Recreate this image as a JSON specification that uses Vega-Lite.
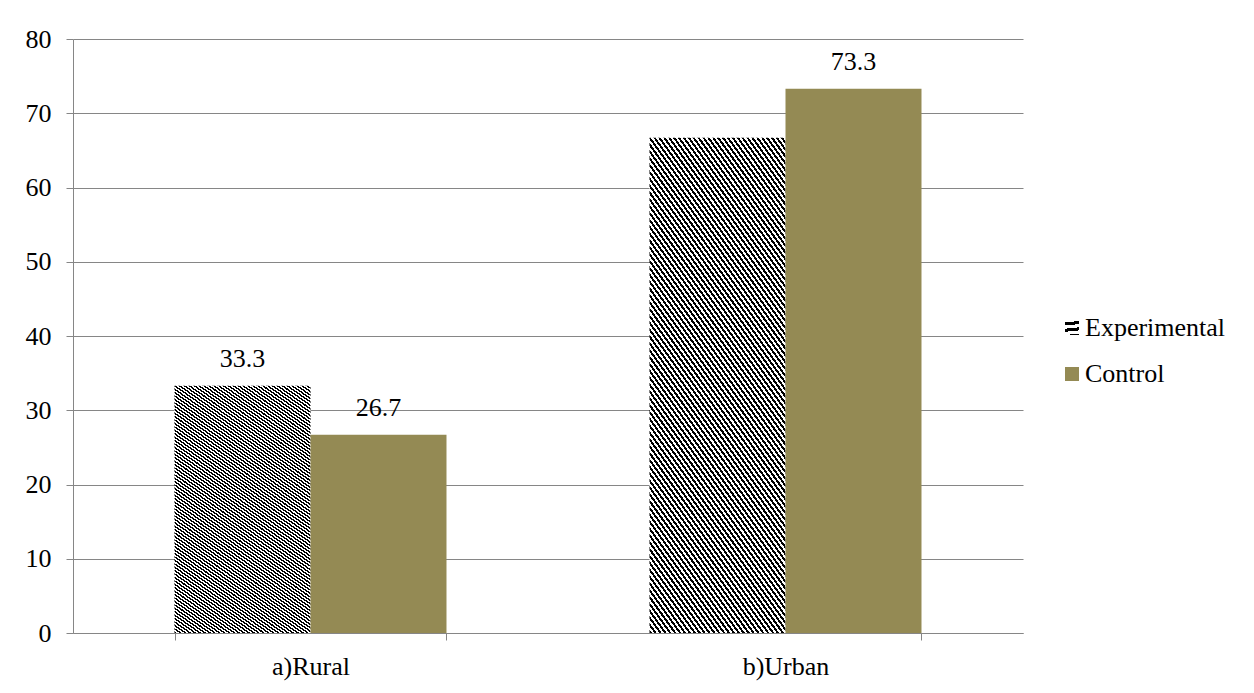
{
  "$schema": "https://vega.github.io/schema/vega-lite/v6.json",
  "width": 950,
  "height": 594,
  "autosize": {"type": "none"},
  "padding": {"left": 73, "top": 39, "right": 231, "bottom": 60},
  "background": "white",
  "config": {"font": "'Liberation Serif', 'Times New Roman', Times, serif", "view": {"stroke": null}},
  "params": [
    {
      "name": "stripes",
      "value": {
        "gradient": "linear", "x1": 0, "y1": 1, "x2": 0.4639, "y2": -0.2062,
        "stops": [
          {"offset":0,"color":"#000"},{"offset":0.005,"color":"#000"},{"offset":0.005,"color":"#fff"},{"offset":0.01,"color":"#fff"},{"offset":0.01,"color":"#000"},{"offset":0.015,"color":"#000"},{"offset":0.015,"color":"#fff"},{"offset":0.02,"color":"#fff"},{"offset":0.02,"color":"#000"},{"offset":0.025,"color":"#000"},{"offset":0.025,"color":"#fff"},{"offset":0.03,"color":"#fff"},{"offset":0.03,"color":"#000"},{"offset":0.035,"color":"#000"},{"offset":0.035,"color":"#fff"},{"offset":0.04,"color":"#fff"},{"offset":0.04,"color":"#000"},{"offset":0.045,"color":"#000"},{"offset":0.045,"color":"#fff"},{"offset":0.05,"color":"#fff"},{"offset":0.05,"color":"#000"},{"offset":0.055,"color":"#000"},{"offset":0.055,"color":"#fff"},{"offset":0.06,"color":"#fff"},{"offset":0.06,"color":"#000"},{"offset":0.065,"color":"#000"},{"offset":0.065,"color":"#fff"},{"offset":0.07,"color":"#fff"},{"offset":0.07,"color":"#000"},{"offset":0.075,"color":"#000"},{"offset":0.075,"color":"#fff"},{"offset":0.08,"color":"#fff"},{"offset":0.08,"color":"#000"},{"offset":0.085,"color":"#000"},{"offset":0.085,"color":"#fff"},{"offset":0.09,"color":"#fff"},{"offset":0.09,"color":"#000"},{"offset":0.095,"color":"#000"},{"offset":0.095,"color":"#fff"},{"offset":0.1,"color":"#fff"},
          {"offset":0.1,"color":"#000"},{"offset":0.105,"color":"#000"},{"offset":0.105,"color":"#fff"},{"offset":0.11,"color":"#fff"},{"offset":0.11,"color":"#000"},{"offset":0.115,"color":"#000"},{"offset":0.115,"color":"#fff"},{"offset":0.12,"color":"#fff"},{"offset":0.12,"color":"#000"},{"offset":0.125,"color":"#000"},{"offset":0.125,"color":"#fff"},{"offset":0.13,"color":"#fff"},{"offset":0.13,"color":"#000"},{"offset":0.135,"color":"#000"},{"offset":0.135,"color":"#fff"},{"offset":0.14,"color":"#fff"},{"offset":0.14,"color":"#000"},{"offset":0.145,"color":"#000"},{"offset":0.145,"color":"#fff"},{"offset":0.15,"color":"#fff"},{"offset":0.15,"color":"#000"},{"offset":0.155,"color":"#000"},{"offset":0.155,"color":"#fff"},{"offset":0.16,"color":"#fff"},{"offset":0.16,"color":"#000"},{"offset":0.165,"color":"#000"},{"offset":0.165,"color":"#fff"},{"offset":0.17,"color":"#fff"},{"offset":0.17,"color":"#000"},{"offset":0.175,"color":"#000"},{"offset":0.175,"color":"#fff"},{"offset":0.18,"color":"#fff"},{"offset":0.18,"color":"#000"},{"offset":0.185,"color":"#000"},{"offset":0.185,"color":"#fff"},{"offset":0.19,"color":"#fff"},{"offset":0.19,"color":"#000"},{"offset":0.195,"color":"#000"},{"offset":0.195,"color":"#fff"},{"offset":0.2,"color":"#fff"},
          {"offset":0.2,"color":"#000"},{"offset":0.205,"color":"#000"},{"offset":0.205,"color":"#fff"},{"offset":0.21,"color":"#fff"},{"offset":0.21,"color":"#000"},{"offset":0.215,"color":"#000"},{"offset":0.215,"color":"#fff"},{"offset":0.22,"color":"#fff"},{"offset":0.22,"color":"#000"},{"offset":0.225,"color":"#000"},{"offset":0.225,"color":"#fff"},{"offset":0.23,"color":"#fff"},{"offset":0.23,"color":"#000"},{"offset":0.235,"color":"#000"},{"offset":0.235,"color":"#fff"},{"offset":0.24,"color":"#fff"},{"offset":0.24,"color":"#000"},{"offset":0.245,"color":"#000"},{"offset":0.245,"color":"#fff"},{"offset":0.25,"color":"#fff"},{"offset":0.25,"color":"#000"},{"offset":0.255,"color":"#000"},{"offset":0.255,"color":"#fff"},{"offset":0.26,"color":"#fff"},{"offset":0.26,"color":"#000"},{"offset":0.265,"color":"#000"},{"offset":0.265,"color":"#fff"},{"offset":0.27,"color":"#fff"},{"offset":0.27,"color":"#000"},{"offset":0.275,"color":"#000"},{"offset":0.275,"color":"#fff"},{"offset":0.28,"color":"#fff"},{"offset":0.28,"color":"#000"},{"offset":0.285,"color":"#000"},{"offset":0.285,"color":"#fff"},{"offset":0.29,"color":"#fff"},{"offset":0.29,"color":"#000"},{"offset":0.295,"color":"#000"},{"offset":0.295,"color":"#fff"},{"offset":0.3,"color":"#fff"},
          {"offset":0.3,"color":"#000"},{"offset":0.305,"color":"#000"},{"offset":0.305,"color":"#fff"},{"offset":0.31,"color":"#fff"},{"offset":0.31,"color":"#000"},{"offset":0.315,"color":"#000"},{"offset":0.315,"color":"#fff"},{"offset":0.32,"color":"#fff"},{"offset":0.32,"color":"#000"},{"offset":0.325,"color":"#000"},{"offset":0.325,"color":"#fff"},{"offset":0.33,"color":"#fff"},{"offset":0.33,"color":"#000"},{"offset":0.335,"color":"#000"},{"offset":0.335,"color":"#fff"},{"offset":0.34,"color":"#fff"},{"offset":0.34,"color":"#000"},{"offset":0.345,"color":"#000"},{"offset":0.345,"color":"#fff"},{"offset":0.35,"color":"#fff"},{"offset":0.35,"color":"#000"},{"offset":0.355,"color":"#000"},{"offset":0.355,"color":"#fff"},{"offset":0.36,"color":"#fff"},{"offset":0.36,"color":"#000"},{"offset":0.365,"color":"#000"},{"offset":0.365,"color":"#fff"},{"offset":0.37,"color":"#fff"},{"offset":0.37,"color":"#000"},{"offset":0.375,"color":"#000"},{"offset":0.375,"color":"#fff"},{"offset":0.38,"color":"#fff"},{"offset":0.38,"color":"#000"},{"offset":0.385,"color":"#000"},{"offset":0.385,"color":"#fff"},{"offset":0.39,"color":"#fff"},{"offset":0.39,"color":"#000"},{"offset":0.395,"color":"#000"},{"offset":0.395,"color":"#fff"},{"offset":0.4,"color":"#fff"},
          {"offset":0.4,"color":"#000"},{"offset":0.405,"color":"#000"},{"offset":0.405,"color":"#fff"},{"offset":0.41,"color":"#fff"},{"offset":0.41,"color":"#000"},{"offset":0.415,"color":"#000"},{"offset":0.415,"color":"#fff"},{"offset":0.42,"color":"#fff"},{"offset":0.42,"color":"#000"},{"offset":0.425,"color":"#000"},{"offset":0.425,"color":"#fff"},{"offset":0.43,"color":"#fff"},{"offset":0.43,"color":"#000"},{"offset":0.435,"color":"#000"},{"offset":0.435,"color":"#fff"},{"offset":0.44,"color":"#fff"},{"offset":0.44,"color":"#000"},{"offset":0.445,"color":"#000"},{"offset":0.445,"color":"#fff"},{"offset":0.45,"color":"#fff"},{"offset":0.45,"color":"#000"},{"offset":0.455,"color":"#000"},{"offset":0.455,"color":"#fff"},{"offset":0.46,"color":"#fff"},{"offset":0.46,"color":"#000"},{"offset":0.465,"color":"#000"},{"offset":0.465,"color":"#fff"},{"offset":0.47,"color":"#fff"},{"offset":0.47,"color":"#000"},{"offset":0.475,"color":"#000"},{"offset":0.475,"color":"#fff"},{"offset":0.48,"color":"#fff"},{"offset":0.48,"color":"#000"},{"offset":0.485,"color":"#000"},{"offset":0.485,"color":"#fff"},{"offset":0.49,"color":"#fff"},{"offset":0.49,"color":"#000"},{"offset":0.495,"color":"#000"},{"offset":0.495,"color":"#fff"},{"offset":0.5,"color":"#fff"},
          {"offset":0.5,"color":"#000"},{"offset":0.505,"color":"#000"},{"offset":0.505,"color":"#fff"},{"offset":0.51,"color":"#fff"},{"offset":0.51,"color":"#000"},{"offset":0.515,"color":"#000"},{"offset":0.515,"color":"#fff"},{"offset":0.52,"color":"#fff"},{"offset":0.52,"color":"#000"},{"offset":0.525,"color":"#000"},{"offset":0.525,"color":"#fff"},{"offset":0.53,"color":"#fff"},{"offset":0.53,"color":"#000"},{"offset":0.535,"color":"#000"},{"offset":0.535,"color":"#fff"},{"offset":0.54,"color":"#fff"},{"offset":0.54,"color":"#000"},{"offset":0.545,"color":"#000"},{"offset":0.545,"color":"#fff"},{"offset":0.55,"color":"#fff"},{"offset":0.55,"color":"#000"},{"offset":0.555,"color":"#000"},{"offset":0.555,"color":"#fff"},{"offset":0.56,"color":"#fff"},{"offset":0.56,"color":"#000"},{"offset":0.565,"color":"#000"},{"offset":0.565,"color":"#fff"},{"offset":0.57,"color":"#fff"},{"offset":0.57,"color":"#000"},{"offset":0.575,"color":"#000"},{"offset":0.575,"color":"#fff"},{"offset":0.58,"color":"#fff"},{"offset":0.58,"color":"#000"},{"offset":0.585,"color":"#000"},{"offset":0.585,"color":"#fff"},{"offset":0.59,"color":"#fff"},{"offset":0.59,"color":"#000"},{"offset":0.595,"color":"#000"},{"offset":0.595,"color":"#fff"},{"offset":0.6,"color":"#fff"},
          {"offset":0.6,"color":"#000"},{"offset":0.605,"color":"#000"},{"offset":0.605,"color":"#fff"},{"offset":0.61,"color":"#fff"},{"offset":0.61,"color":"#000"},{"offset":0.615,"color":"#000"},{"offset":0.615,"color":"#fff"},{"offset":0.62,"color":"#fff"},{"offset":0.62,"color":"#000"},{"offset":0.625,"color":"#000"},{"offset":0.625,"color":"#fff"},{"offset":0.63,"color":"#fff"},{"offset":0.63,"color":"#000"},{"offset":0.635,"color":"#000"},{"offset":0.635,"color":"#fff"},{"offset":0.64,"color":"#fff"},{"offset":0.64,"color":"#000"},{"offset":0.645,"color":"#000"},{"offset":0.645,"color":"#fff"},{"offset":0.65,"color":"#fff"},{"offset":0.65,"color":"#000"},{"offset":0.655,"color":"#000"},{"offset":0.655,"color":"#fff"},{"offset":0.66,"color":"#fff"},{"offset":0.66,"color":"#000"},{"offset":0.665,"color":"#000"},{"offset":0.665,"color":"#fff"},{"offset":0.67,"color":"#fff"},{"offset":0.67,"color":"#000"},{"offset":0.675,"color":"#000"},{"offset":0.675,"color":"#fff"},{"offset":0.68,"color":"#fff"},{"offset":0.68,"color":"#000"},{"offset":0.685,"color":"#000"},{"offset":0.685,"color":"#fff"},{"offset":0.69,"color":"#fff"},{"offset":0.69,"color":"#000"},{"offset":0.695,"color":"#000"},{"offset":0.695,"color":"#fff"},{"offset":0.7,"color":"#fff"},
          {"offset":0.7,"color":"#000"},{"offset":0.705,"color":"#000"},{"offset":0.705,"color":"#fff"},{"offset":0.71,"color":"#fff"},{"offset":0.71,"color":"#000"},{"offset":0.715,"color":"#000"},{"offset":0.715,"color":"#fff"},{"offset":0.72,"color":"#fff"},{"offset":0.72,"color":"#000"},{"offset":0.725,"color":"#000"},{"offset":0.725,"color":"#fff"},{"offset":0.73,"color":"#fff"},{"offset":0.73,"color":"#000"},{"offset":0.735,"color":"#000"},{"offset":0.735,"color":"#fff"},{"offset":0.74,"color":"#fff"},{"offset":0.74,"color":"#000"},{"offset":0.745,"color":"#000"},{"offset":0.745,"color":"#fff"},{"offset":0.75,"color":"#fff"},{"offset":0.75,"color":"#000"},{"offset":0.755,"color":"#000"},{"offset":0.755,"color":"#fff"},{"offset":0.76,"color":"#fff"},{"offset":0.76,"color":"#000"},{"offset":0.765,"color":"#000"},{"offset":0.765,"color":"#fff"},{"offset":0.77,"color":"#fff"},{"offset":0.77,"color":"#000"},{"offset":0.775,"color":"#000"},{"offset":0.775,"color":"#fff"},{"offset":0.78,"color":"#fff"},{"offset":0.78,"color":"#000"},{"offset":0.785,"color":"#000"},{"offset":0.785,"color":"#fff"},{"offset":0.79,"color":"#fff"},{"offset":0.79,"color":"#000"},{"offset":0.795,"color":"#000"},{"offset":0.795,"color":"#fff"},{"offset":0.8,"color":"#fff"},
          {"offset":0.8,"color":"#000"},{"offset":0.805,"color":"#000"},{"offset":0.805,"color":"#fff"},{"offset":0.81,"color":"#fff"},{"offset":0.81,"color":"#000"},{"offset":0.815,"color":"#000"},{"offset":0.815,"color":"#fff"},{"offset":0.82,"color":"#fff"},{"offset":0.82,"color":"#000"},{"offset":0.825,"color":"#000"},{"offset":0.825,"color":"#fff"},{"offset":0.83,"color":"#fff"},{"offset":0.83,"color":"#000"},{"offset":0.835,"color":"#000"},{"offset":0.835,"color":"#fff"},{"offset":0.84,"color":"#fff"},{"offset":0.84,"color":"#000"},{"offset":0.845,"color":"#000"},{"offset":0.845,"color":"#fff"},{"offset":0.85,"color":"#fff"},{"offset":0.85,"color":"#000"},{"offset":0.855,"color":"#000"},{"offset":0.855,"color":"#fff"},{"offset":0.86,"color":"#fff"},{"offset":0.86,"color":"#000"},{"offset":0.865,"color":"#000"},{"offset":0.865,"color":"#fff"},{"offset":0.87,"color":"#fff"},{"offset":0.87,"color":"#000"},{"offset":0.875,"color":"#000"},{"offset":0.875,"color":"#fff"},{"offset":0.88,"color":"#fff"},{"offset":0.88,"color":"#000"},{"offset":0.885,"color":"#000"},{"offset":0.885,"color":"#fff"},{"offset":0.89,"color":"#fff"},{"offset":0.89,"color":"#000"},{"offset":0.895,"color":"#000"},{"offset":0.895,"color":"#fff"},{"offset":0.9,"color":"#fff"},
          {"offset":0.9,"color":"#000"},{"offset":0.905,"color":"#000"},{"offset":0.905,"color":"#fff"},{"offset":0.91,"color":"#fff"},{"offset":0.91,"color":"#000"},{"offset":0.915,"color":"#000"},{"offset":0.915,"color":"#fff"},{"offset":0.92,"color":"#fff"},{"offset":0.92,"color":"#000"},{"offset":0.925,"color":"#000"},{"offset":0.925,"color":"#fff"},{"offset":0.93,"color":"#fff"},{"offset":0.93,"color":"#000"},{"offset":0.935,"color":"#000"},{"offset":0.935,"color":"#fff"},{"offset":0.94,"color":"#fff"},{"offset":0.94,"color":"#000"},{"offset":0.945,"color":"#000"},{"offset":0.945,"color":"#fff"},{"offset":0.95,"color":"#fff"},{"offset":0.95,"color":"#000"},{"offset":0.955,"color":"#000"},{"offset":0.955,"color":"#fff"},{"offset":0.96,"color":"#fff"},{"offset":0.96,"color":"#000"},{"offset":0.965,"color":"#000"},{"offset":0.965,"color":"#fff"},{"offset":0.97,"color":"#fff"},{"offset":0.97,"color":"#000"},{"offset":0.975,"color":"#000"},{"offset":0.975,"color":"#fff"},{"offset":0.98,"color":"#fff"},{"offset":0.98,"color":"#000"},{"offset":0.985,"color":"#000"},{"offset":0.985,"color":"#fff"},{"offset":0.99,"color":"#fff"},{"offset":0.99,"color":"#000"},{"offset":0.995,"color":"#000"},{"offset":0.995,"color":"#fff"},{"offset":1,"color":"#fff"}
        ]
      }
    }
  ],
  "data": {
    "values": [
      {"area": "a)Rural", "group": "Experimental", "value": 33.3},
      {"area": "a)Rural", "group": "Control", "value": 26.7},
      {"area": "b)Urban", "group": "Experimental", "value": 66.7},
      {"area": "b)Urban", "group": "Control", "value": 73.3}
    ]
  },
  "encoding": {
    "x": {
      "field": "area",
      "type": "nominal",
      "scale": {"paddingInner": 0.4274, "paddingOuter": 0.2137},
      "axis": {
        "title": null,
        "labelAngle": 0,
        "labelFont": "'Liberation Serif', 'Times New Roman', Times, serif",
        "labelFontSize": 26,
        "labelColor": "#000",
        "labelBaseline": "alphabetic",
        "labelPadding": 34,
        "tickBand": "extent",
        "tickSize": 7,
        "tickColor": "#868686",
        "domainColor": "#868686",
        "grid": false
      }
    },
    "xOffset": {
      "field": "group",
      "type": "nominal",
      "sort": ["Experimental", "Control"],
      "scale": {"paddingInner": 0, "paddingOuter": 0}
    },
    "y": {
      "field": "value",
      "type": "quantitative",
      "scale": {"domain": [0, 80], "nice": false},
      "axis": {
        "title": null,
        "values": [0, 10, 20, 30, 40, 50, 60, 70, 80],
        "labelFont": "'Liberation Serif', 'Times New Roman', Times, serif",
        "labelFontSize": 26,
        "labelColor": "#000",
        "labelPadding": 15,
        "tickSize": 7,
        "tickColor": "#868686",
        "domainColor": "#868686",
        "grid": true,
        "gridColor": "#868686"
      }
    }
  },
  "layer": [
    {
      "mark": {"type": "bar"},
      "encoding": {
        "color": {
          "field": "group",
          "type": "nominal",
          "scale": {
            "domain": ["Experimental", "Control"],
            "range": [{"expr": "stripes"}, "#948A54"]
          },
          "legend": {
            "title": null,
            "orient": "none",
            "legendX": 986,
            "legendY": 276,
            "padding": 0,
            "symbolType": "square",
            "symbolSize": 196,
            "symbolStrokeWidth": 0,
            "labelFont": "'Liberation Serif', 'Times New Roman', Times, serif",
            "labelFontSize": 26,
            "labelColor": "#000",
            "labelOffset": 0,
            "rowPadding": 20,
            "encode": {
              "symbols": {
                "update": {
                  "fill": [
                    {
                      "test": "datum.value === 'Experimental'",
                      "value": {
                        "gradient": "linear", "x1": 0, "y1": 1, "x2": 1, "y2": 0,
                        "stops": [
                          {"offset":0,"color":"#000"},{"offset":0.125,"color":"#000"},{"offset":0.125,"color":"#fff"},{"offset":0.25,"color":"#fff"},
                          {"offset":0.25,"color":"#000"},{"offset":0.375,"color":"#000"},{"offset":0.375,"color":"#fff"},{"offset":0.5,"color":"#fff"},
                          {"offset":0.5,"color":"#000"},{"offset":0.625,"color":"#000"},{"offset":0.625,"color":"#fff"},{"offset":0.75,"color":"#fff"},
                          {"offset":0.75,"color":"#000"},{"offset":0.875,"color":"#000"},{"offset":0.875,"color":"#fff"},{"offset":1,"color":"#fff"}
                        ]
                      }
                    },
                    {"value": "#948A54"}
                  ]
                }
              }
            }
          }
        }
      }
    },
    {
      "transform": [
        {"filter": "!(datum.area === 'b)Urban' && datum.group === 'Experimental')"}
      ],
      "mark": {
        "type": "text",
        "baseline": "alphabetic",
        "dy": -18.5,
        "font": "'Liberation Serif', 'Times New Roman', Times, serif",
        "fontSize": 26,
        "color": "#000"
      },
      "encoding": {
        "text": {"field": "value", "type": "quantitative", "format": ".1f"}
      }
    }
  ]
}
